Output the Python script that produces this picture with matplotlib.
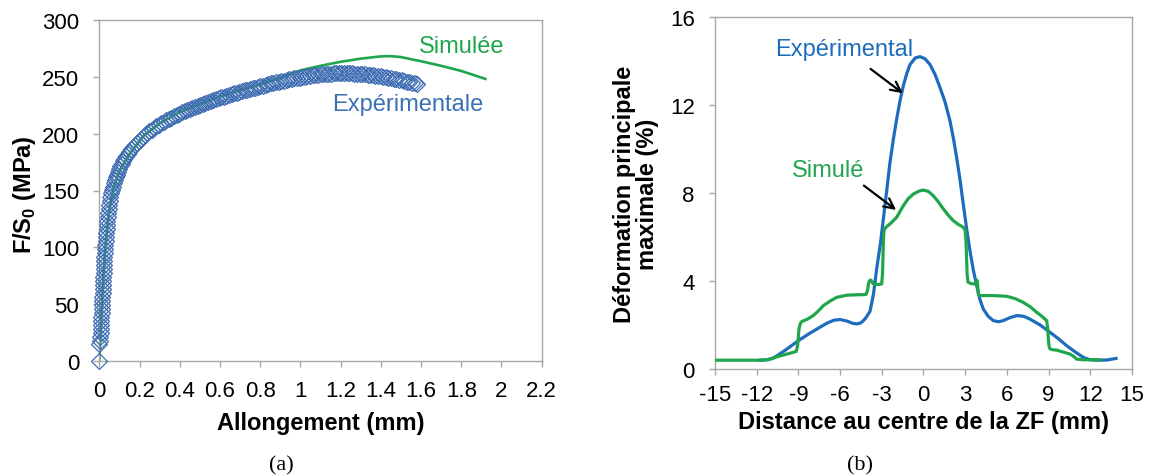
import matplotlib
matplotlib.use("Agg")
import matplotlib.pyplot as plt

plt.rcParams['font.family'] = ['Liberation Sans', 'DejaVu Sans']
plt.rcParams['mathtext.fontset'] = 'custom'
plt.rcParams['mathtext.rm'] = 'Liberation Sans'
plt.rcParams['mathtext.bf'] = 'Liberation Sans:bold'
plt.rcParams['axes.unicode_minus'] = False

# ---------------- Panel (a): tensile curve ----------------
exp_x = [0, 0, 0.002, 0.004, 0.006, 0.007, 0.008, 0.009, 0.010, 0.011, 0.012, 0.013,
         0.014, 0.015, 0.016, 0.017, 0.018, 0.019, 0.020, 0.021, 0.022, 0.023, 0.024,
         0.025, 0.026, 0.028, 0.029, 0.031, 0.032, 0.034, 0.036, 0.038, 0.040, 0.042,
         0.044, 0.047, 0.049, 0.052, 0.055, 0.059, 0.063, 0.067, 0.071, 0.076, 0.081,
         0.086, 0.092, 0.098, 0.104, 0.111, 0.118, 0.125, 0.133, 0.141, 0.149, 0.158,
         0.167, 0.176, 0.186, 0.196, 0.206, 0.216, 0.227, 0.238, 0.249, 0.260, 0.272,
         0.284, 0.296, 0.308, 0.320, 0.333, 0.346, 0.359, 0.372, 0.385, 0.398, 0.411,
         0.424, 0.437, 0.450, 0.463, 0.476, 0.489, 0.502, 0.515, 0.528, 0.541, 0.554,
         0.567, 0.580, 0.593, 0.606, 0.619, 0.632, 0.645, 0.658, 0.671, 0.684, 0.697,
         0.710, 0.723, 0.736, 0.749, 0.762, 0.775, 0.788, 0.801, 0.814, 0.827, 0.840,
         0.853, 0.866, 0.879, 0.892, 0.905, 0.918, 0.931, 0.944, 0.957, 0.970, 0.983,
         0.996, 1.009, 1.022, 1.035, 1.048, 1.061, 1.074, 1.087, 1.100, 1.113, 1.126,
         1.139, 1.152, 1.165, 1.178, 1.191, 1.204, 1.217, 1.230, 1.243, 1.256, 1.269,
         1.282, 1.295, 1.308, 1.321, 1.334, 1.347, 1.360, 1.373, 1.386, 1.399, 1.412,
         1.425, 1.438, 1.451, 1.464, 1.477, 1.490, 1.503, 1.516, 1.529, 1.542, 1.555,
         1.568, 1.580]
exp_y = [0, 15, 18, 21.5, 25, 28.5, 32, 35.5, 39, 42.5, 46, 49.5,
         53, 56.5, 60, 63.5, 67, 70.5, 74, 77.5, 81, 84.5, 88,
         91.5, 95, 98.5, 102, 105.5, 109, 112.5, 116, 119.5, 123, 126.5,
         130, 133.5, 137, 140.5, 144, 147.5, 150.5, 153.5, 156.3, 159, 161.5,
         164, 166.5, 169, 171.3, 173.6, 175.9, 178, 180.1, 182.2, 184.2, 186.2,
         188.1, 190, 191.9, 193.7, 195.4, 197.1, 198.8, 200.4, 201.9, 203.4, 204.9,
         206.3, 207.7, 209.0, 210.3, 211.6, 212.9, 214.1, 215.3, 216.4, 217.5, 218.6,
         219.6, 220.6, 221.6, 222.6, 223.5, 224.4, 225.3, 226.2, 227.0, 227.8, 228.6,
         229.4, 230.2, 231.0, 231.8, 232.5, 233.2, 233.9, 234.6, 235.3, 236.0, 236.7,
         237.4, 238.0, 238.6, 239.2, 239.8, 240.4, 241.0, 241.6, 242.2, 242.8, 243.4,
         244.0, 244.5, 245.0, 245.5, 246.0, 246.5, 247.0, 247.5, 248.0, 248.4, 248.8,
         249.2, 249.6, 250.0, 250.4, 250.7, 251.0, 251.3, 251.6, 251.9, 252.1, 252.3,
         252.5, 252.7, 252.8, 252.9, 253.0, 253.0, 253.0, 253.0, 252.9, 252.8, 252.7,
         252.5, 252.3, 252.1, 251.9, 251.7, 251.4, 251.1, 250.8, 250.5, 250.2, 249.8,
         249.4, 249.0, 248.6, 248.2, 247.7, 247.2, 246.7, 246.2, 245.7, 245.2, 244.7,
         244.2, 243.7]

sim_x = [0, 0.01, 0.02, 0.03, 0.045, 0.07, 0.10, 0.15, 0.22, 0.30, 0.40, 0.50, 0.60,
         0.70, 0.80, 0.90, 1.00, 1.10, 1.20, 1.30, 1.40, 1.45, 1.50, 1.60, 1.70, 1.80, 1.92]
sim_y = [0, 40, 75, 100, 127, 152, 167, 182, 198, 209, 219, 226, 232.5,
         238, 243, 249, 255.5, 259.5, 263, 265.8, 267.8, 268.0, 267.2, 263.5, 259.5, 255, 248]

# ---------------- Panel (b): strain profiles ----------------
bexp_x = [-11.8, -11.2, -10.8, -10.3, -9.8, -9.0, -8.2, -7.45, -6.9, -6.45, -6.0, -5.5,
          -5.1, -4.8, -4.5, -4.2, -3.85, -3.6, -3.37, -3.1, -2.89, -2.65, -2.41, -2.17,
          -1.93, -1.69, -1.45, -1.2, -0.97, -0.6, -0.25, 0.1, 0.47, 0.83, 1.19, 1.55,
          1.9, 2.15, 2.39, 2.63, 2.86, 3.1, 3.35, 3.6, 3.83, 4.05, 4.3, 4.65, 5.02, 5.4,
          5.74, 6.2, 6.71, 7.2, 7.66, 8.4, 9.1, 9.7, 10.3, 10.9, 11.5, 11.97, 12.5, 13.2, 13.85]
bexp_y = [0.40, 0.42, 0.50, 0.70, 0.92, 1.29, 1.62, 1.90, 2.10, 2.22, 2.25, 2.18,
          2.08, 2.05, 2.10, 2.28, 2.62, 3.40, 4.55, 5.70, 6.82, 8.10, 9.40, 10.45,
          11.37, 12.20, 12.89, 13.45, 13.85, 14.15, 14.21, 14.12, 13.85, 13.40, 12.80, 12.15,
          11.30, 10.50, 9.60, 8.60, 7.50, 6.40, 5.35, 4.45, 3.79, 3.18, 2.73, 2.40, 2.20, 2.15,
          2.20, 2.33, 2.43, 2.40, 2.27, 2.00, 1.67, 1.38, 1.06, 0.78, 0.53, 0.42, 0.40, 0.41, 0.48]

bsim_x = [-15, -13, -11.6, -11.04, -10.32, -9.7, -9.37, -9.15, -9.05, -9.0, -8.95, -8.85,
          -8.76, -8.4, -7.93, -7.6, -7.21, -6.7, -6.25, -5.5, -4.57, -4.33, -4.12, -4.02,
          -3.97, -3.9, -3.8, -3.73, -3.65, -3.5, -3.2, -3.01, -2.95, -2.91, -2.88, -2.84,
          -2.7, -2.41, -1.93, -1.45, -1.1, -0.73, -0.3, -0.01, 0.35, 0.71, 1.07, 1.43, 1.8,
          2.14, 2.5, 2.86, 3.0, 3.06, 3.1, 3.14, 3.2, 3.45, 3.7, 3.78, 3.83, 3.88, 3.92, 3.96,
          4.05, 4.4, 5.02, 5.98, 6.6, 7.18, 7.7, 8.14, 8.55, 8.86, 8.93, 8.98, 9.03, 9.1, 9.25,
          9.58, 10.1, 10.54, 10.85, 11.02, 11.5, 12.2, 12.7]
bsim_y = [0.40, 0.40, 0.40, 0.45, 0.60, 0.70, 0.76, 0.80, 1.10, 1.50, 1.85, 2.08,
          2.16, 2.25, 2.43, 2.62, 2.88, 3.10, 3.26, 3.36, 3.38, 3.38, 3.40, 3.60,
          3.85, 4.00, 4.05, 4.00, 3.90, 3.85, 3.85, 3.87, 4.30, 5.20, 5.90, 6.30,
          6.45, 6.60, 6.90, 7.43, 7.75, 7.96, 8.10, 8.14, 8.08, 7.88, 7.60, 7.28, 6.98,
          6.75, 6.58, 6.45, 6.30, 5.80, 5.00, 4.30, 3.95, 3.88, 3.87, 3.95, 4.05, 3.95, 3.60, 3.38,
          3.34, 3.34, 3.34, 3.31, 3.20, 3.03, 2.82, 2.58, 2.38, 2.20, 1.90, 1.40, 1.05, 0.92, 0.88,
          0.86, 0.76, 0.68, 0.55, 0.45, 0.42, 0.42, 0.42]

xt_a = [0, 0.2, 0.4, 0.6, 0.8, 1, 1.2, 1.4, 1.6, 1.8, 2, 2.2]
xt_a_labels = ['0', '0.2', '0.4', '0.6', '0.8', '1', '1.2', '1.4', '1.6', '1.8', '2', '2.2']
yt_a = [0, 50, 100, 150, 200, 250, 300]
xt_b = [-15, -12, -9, -6, -3, 0, 3, 6, 9, 12, 15]
yt_b = [0, 4, 8, 12, 16]

BLUE_M = '#3f6db2'
GREEN = '#1fa64c'
BLUE_L = '#1d6cbd'
SPINE = '#a6a6a6'

fig = plt.figure(figsize=(11.49, 4.77), dpi=100)
W, H = 1149.0, 477.0
ax1 = fig.add_axes([99.3 / W, 1 - 362.3 / H, (541.7 - 99.3) / W, (362.3 - 20.7) / H])
ax2 = fig.add_axes([715 / W, 1 - 370 / H, (1132 - 715) / W, (370 - 18.3) / H])

for ax in (ax1, ax2):
    for s in ax.spines.values():
        s.set_color(SPINE)
        s.set_linewidth(1.0)
    ax.tick_params(axis='both', which='major', direction='out', color=SPINE,
                   length=4.5, width=1.0, labelsize=16, labelcolor='black')

# Panel (a)
ax1.plot(sim_x, sim_y, color=GREEN, lw=1.9, zorder=2)
ax1.plot(exp_x, exp_y, linestyle='none', marker='D', markersize=8.0,
         markerfacecolor='none', markeredgecolor=BLUE_M, markeredgewidth=0.9,
         zorder=3, clip_on=False)
ax1.set_xlim(0, 2.2)
ax1.set_ylim(0, 300)
ax1.set_xticks(xt_a)
ax1.set_xticklabels(xt_a_labels)
ax1.set_yticks(yt_a)
ax1.tick_params(axis='x', pad=9)
ax1.tick_params(axis='y', pad=10)
ax1.set_xlabel('Allongement (mm)', fontsize=17, fontweight='bold')
ax1.set_ylabel(r'F/S$_{\mathbf{0}}$ (MPa)', fontsize=17, fontweight='bold')
ax1.xaxis.set_label_coords(0.5, -0.179)
ax1.xaxis.label.set_va('center')
ax1.yaxis.set_label_coords(-0.17, 0.49)
ax1.yaxis.label.set_va('center')
ax1.text(1.80, 276.5, 'Simulée', color=GREEN, fontsize=17, ha='center', va='center')
ax1.text(1.532, 225.6, 'Expérimentale', color='#3a70b5', fontsize=17, ha='center', va='center')

# Panel (b)
ax2.plot(bexp_x, bexp_y, color=BLUE_L, lw=2.3, zorder=2)
ax2.plot(bsim_x, bsim_y, color=GREEN, lw=2.3, zorder=3)
ax2.set_xlim(-15, 15)
ax2.set_ylim(0, 16)
ax2.set_xticks(xt_b)
ax2.set_yticks(yt_b)
ax2.tick_params(axis='x', pad=6)
ax2.tick_params(axis='y', pad=10)
ax2.set_xlabel('Distance au centre de la ZF (mm)', fontsize=17, fontweight='bold')
ax2.set_ylabel('Déformation principale\nmaximale (%)', fontsize=17, fontweight='bold',
               linespacing=1.0)
ax2.xaxis.set_label_coords(0.5, -0.149)
ax2.xaxis.label.set_va('center')
ax2.yaxis.set_label_coords(-0.19, 0.5)
ax2.yaxis.label.set_va('center')
ax2.text(-5.7, 14.56, 'Expérimental', color=BLUE_L, fontsize=17, ha='center', va='center')
ax2.text(-6.85, 9.05, 'Simulé', color=GREEN, fontsize=17, ha='center', va='center')
ax2.annotate('', xy=(-1.33, 12.47), xytext=(-3.97, 13.73),
             arrowprops=dict(arrowstyle='->', color='black', lw=1.6, mutation_scale=18))
ax2.annotate('', xy=(-1.81, 7.16), xytext=(-4.45, 8.42),
             arrowprops=dict(arrowstyle='->', color='black', lw=1.6, mutation_scale=18))

fig.text(281 / W, 1 - 466 / H, '(a)', fontsize=16, ha='center', va='center',
         family=['Liberation Serif', 'DejaVu Serif'])
fig.text(860 / W, 1 - 466 / H, '(b)', fontsize=16, ha='center', va='center',
         family=['Liberation Serif', 'DejaVu Serif'])

fig.savefig('out.png', dpi=100)
